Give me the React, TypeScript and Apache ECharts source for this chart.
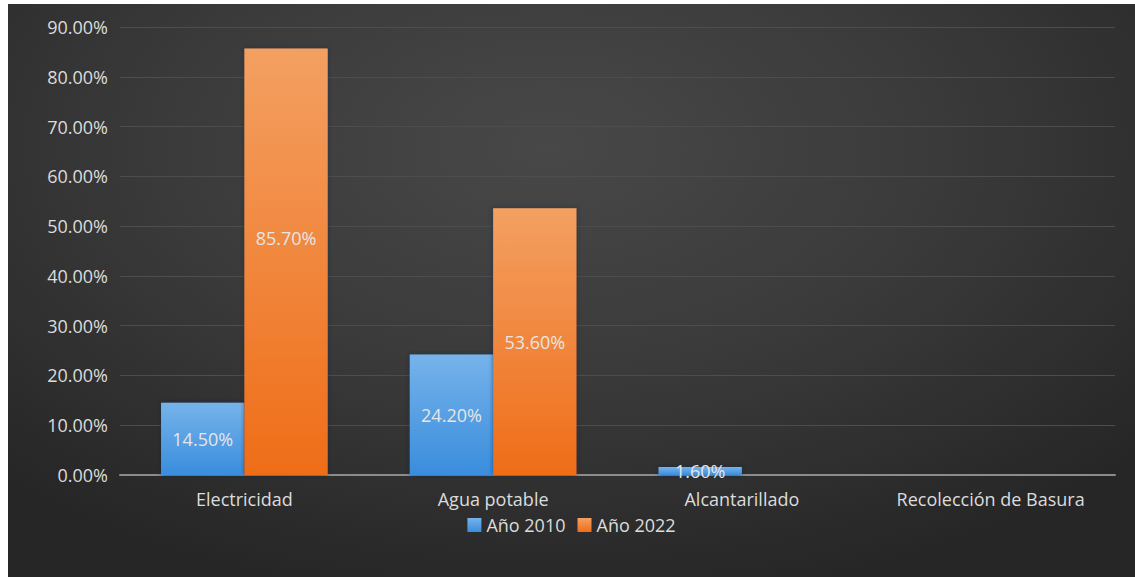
import React, { useEffect, useRef } from "react";
import * as echarts from "echarts";

const categories = ["Electricidad", "Agua potable", "Alcantarillado", "Recolección de Basura"];
const values2010 = [14.5, 24.2, 1.6, 0];
const values2022 = [85.7, 53.6, 0, 0];
const seriesNames = ["Año 2010", "Año 2022"];

export default function App() {
  const ref = useRef<HTMLDivElement>(null);
  useEffect(() => {
    if (!ref.current) return;
    const chart = echarts.init(ref.current, null, { renderer: "svg" });
    const font = "'Open Sans', 'Noto Sans', sans-serif";
    const fs = 18;
    const labelStyle = {
      show: true,
      position: "inside",
      color: "#e6e6e6",
      fontFamily: font,
      fontSize: fs,
      formatter: (p: any) => (p.value > 0 ? p.value.toFixed(2) + "%" : ""),
    };
    chart.setOption({
      animation: false,
      backgroundColor: "transparent",
      grid: { left: 112, right: 20, top: 23, bottom: 102 },
      legend: {
        bottom: 38,
        left: "center",
        itemWidth: 14,
        itemHeight: 14,
        itemGap: 12,
        icon: "rect",
        textStyle: { color: "#dcdcdc", fontSize: fs, fontFamily: font },
        data: seriesNames,
      },
      xAxis: {
        type: "category",
        data: categories,
        axisLine: { lineStyle: { color: "#8c8c8c", width: 2 } },
        axisTick: { show: false },
        axisLabel: { color: "#dcdcdc", fontSize: fs, fontFamily: font, margin: 15 },
      },
      yAxis: {
        type: "value",
        min: 0,
        max: 90,
        interval: 10,
        axisLabel: {
          color: "#dcdcdc",
          fontSize: fs,
          fontFamily: font,
          margin: 12,
          formatter: (v: number) => v.toFixed(2) + "%",
        },
        axisLine: { show: false },
        axisTick: { show: false },
        splitLine: { lineStyle: { color: "#4d4d4d", width: 1 } },
      },
      series: [
        {
          name: seriesNames[0],
          type: "bar",
          data: values2010,
          barGap: "0%",
          barCategoryGap: "33%",
          itemStyle: {
            color: new echarts.graphic.LinearGradient(0, 0, 0, 1, [
              { offset: 0, color: "#76b3ea" },
              { offset: 1, color: "#3a8ddd" },
            ]),
            shadowColor: "rgba(20,40,70,0.6)",
            shadowBlur: 4,
          },
          label: labelStyle,
        },
        {
          name: seriesNames[1],
          type: "bar",
          data: values2022.map((v, i) => (i === 0 ? { value: v, label: { offset: [0, -24] } } : v)),
          itemStyle: {
            color: new echarts.graphic.LinearGradient(0, 0, 0, 1, [
              { offset: 0, color: "#f3a062" },
              { offset: 1, color: "#ef6d18" },
            ]),
            shadowColor: "rgba(20,40,70,0.6)",
            shadowBlur: 4,
          },
          label: labelStyle,
        },
      ],
    });
    return () => chart.dispose();
  }, []);
  return (
    <div
      ref={ref}
      style={{
        position: "absolute",
        left: 8,
        top: 4,
        width: 1127,
        height: 573,
        background: "radial-gradient(ellipse 70% 80% at 48% 25%, #484848 0%, #3a3a3a 50%, #262626 100%)",
      }}
    />
  );
}
